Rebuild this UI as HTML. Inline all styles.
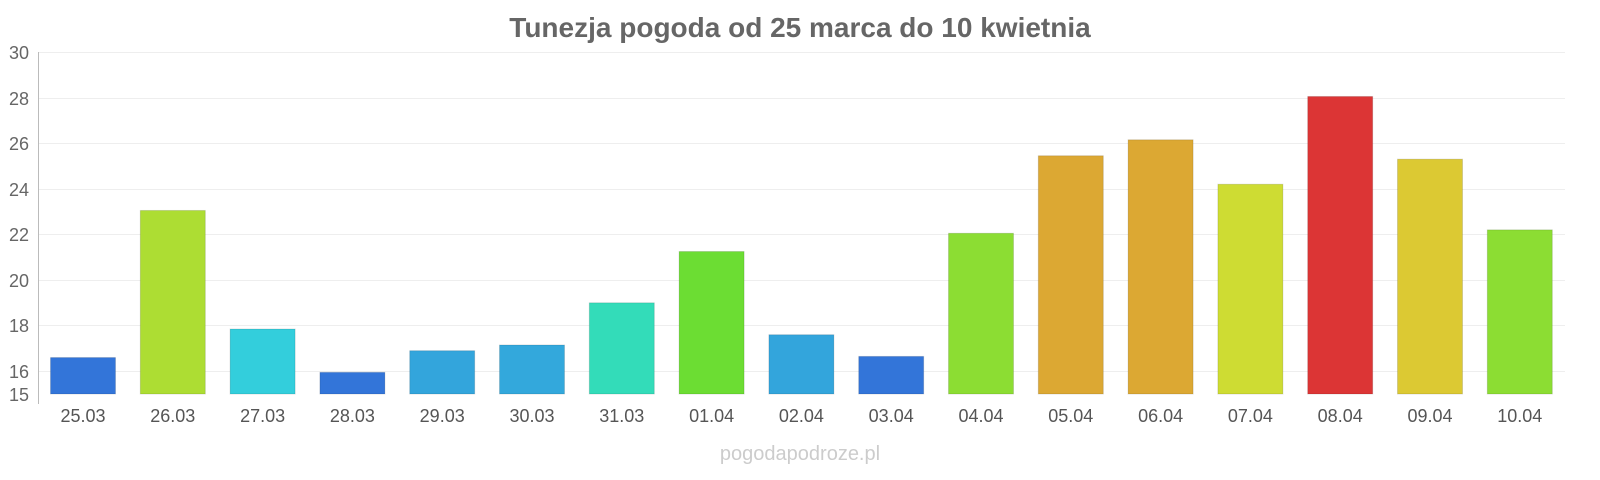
<!DOCTYPE html>
<html><head><meta charset="utf-8"><style>body{margin:0;background:#fff}svg{display:block}text{font-family:"Liberation Sans",sans-serif}</style></head><body>
<svg width="1600" height="480" xmlns="http://www.w3.org/2000/svg">
<text x="800" y="37" text-anchor="middle" font-size="28" font-weight="bold" fill="#666">Tunezja pogoda od 25 marca do 10 kwietnia</text>
<g stroke="#eee" stroke-width="1">
<line x1="38" x2="1565" y1="52.5" y2="52.5"/><line x1="38" x2="1565" y1="98.5" y2="98.5"/><line x1="38" x2="1565" y1="143.5" y2="143.5"/><line x1="38" x2="1565" y1="189.5" y2="189.5"/><line x1="38" x2="1565" y1="234.5" y2="234.5"/><line x1="38" x2="1565" y1="280.5" y2="280.5"/><line x1="38" x2="1565" y1="325.5" y2="325.5"/><line x1="38" x2="1565" y1="371.5" y2="371.5"/>
</g>
<line x1="38.5" x2="38.5" y1="52" y2="404" stroke="#bbb"/>
<g font-size="18" fill="#666" text-anchor="end">
<text x="29" y="59">30</text><text x="29" y="105">28</text><text x="29" y="150">26</text><text x="29" y="196">24</text><text x="29" y="241">22</text><text x="29" y="287">20</text><text x="29" y="332">18</text><text x="29" y="378">16</text><text x="29" y="401">15</text>
</g>
<g id="bars"></g>
<g font-size="18" fill="#555" text-anchor="middle" id="labels"></g>
<text x="800" y="460" text-anchor="middle" font-size="20" fill="#ccc">pogodapodroze.pl</text>
<script>
var d=[["25.03",16.6,"#3375d9"],["26.03",23.05,"#addd33"],["27.03",17.85,"#33cedc"],["28.03",15.95,"#3375d9"],["29.03",16.9,"#33a5dc"],["30.03",17.15,"#33a8dc"],["31.03",19.0,"#33dcb9"],["01.04",21.25,"#6cdd33"],["02.04",17.6,"#33a5dc"],["03.04",16.65,"#3375d9"],["04.04",22.05,"#8cdd33"],["05.04",25.45,"#dca833"],["06.04",26.15,"#dca833"],["07.04",24.2,"#cedc33"],["08.04",28.05,"#dc3535"],["09.04",25.3,"#dcc933"],["10.04",22.2,"#8cdd33"]];
var b=document.getElementById("bars"),l=document.getElementById("labels"),ns="http://www.w3.org/2000/svg";
d.forEach(function(e,i){var c=38+45+i*89.8,t=394-(e[1]-15)*22.8;var r=document.createElementNS(ns,"rect");r.setAttribute("x",c-32.5);r.setAttribute("y",t);r.setAttribute("width",65);r.setAttribute("height",394-t);r.setAttribute("fill",e[2]);r.setAttribute("stroke","rgba(0,0,0,0.12)");b.appendChild(r);var x=document.createElementNS(ns,"text");x.setAttribute("x",c);x.setAttribute("y",422);x.textContent=e[0];l.appendChild(x);});
</script>
</svg>
</body></html>
